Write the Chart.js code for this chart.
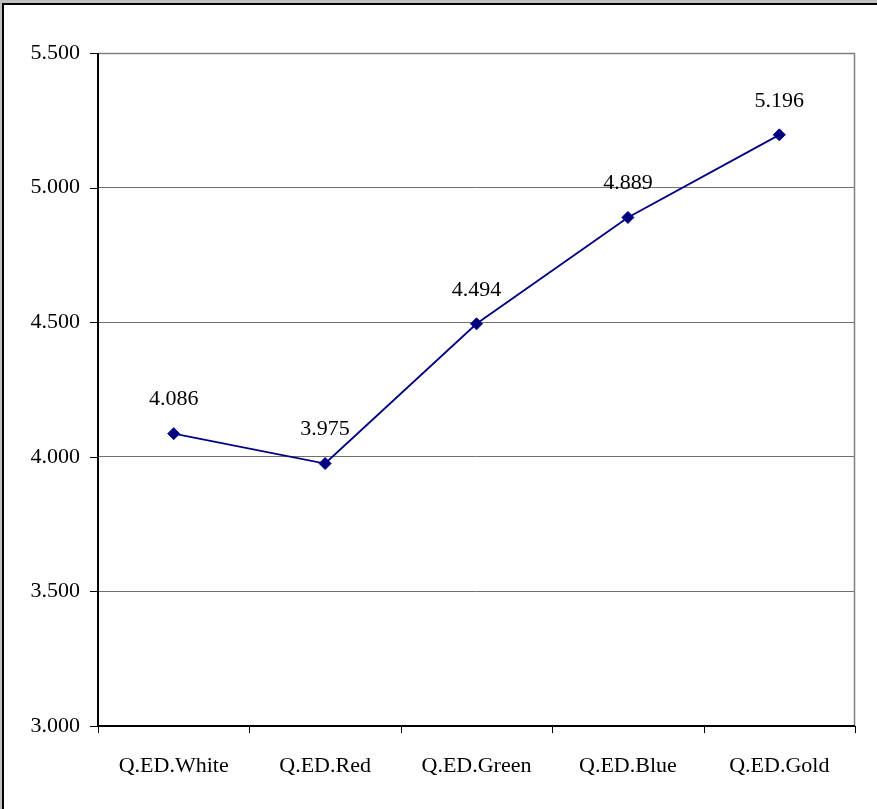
<!DOCTYPE html>
<html>
<head>
<meta charset="utf-8">
<script src="https://cdn.jsdelivr.net/npm/chart.js@4/dist/chart.umd.min.js"></script>
<style>
  html, body { margin: 0; padding: 0; }
  body { width: 877px; height: 809px; background: #c0c0c0; position: relative; overflow: hidden; }
  #frame { position: absolute; left: 2px; top: 3px; right: -10px; bottom: -10px; background: #fff; border-left: 2px solid #000; border-top: 2px solid #000; }
  #wrap { position: absolute; left: 0; top: 0; width: 877px; height: 809px; }
</style>
</head>
<body>
<div id="frame"></div>
<div id="wrap"><canvas id="c" width="877" height="809"></canvas></div>
<script>
const categories = ['Q.ED.White', 'Q.ED.Red', 'Q.ED.Green', 'Q.ED.Blue', 'Q.ED.Gold'];
const scores = [4.086, 3.975, 4.494, 4.889, 5.196];
const yTicks = [3.0, 3.5, 4.0, 4.5, 5.0, 5.5];

const FONT = '"Liberation Serif", "Times New Roman", serif';
const fmt = v => v.toFixed(3);

// Value labels above each marker
const valueLabels = {
  id: 'valueLabels',
  afterDatasetsDraw(chart) {
    const ctx = chart.ctx;
    const meta = chart.getDatasetMeta(0);
    ctx.save();
    ctx.font = '22px ' + FONT;
    ctx.fillStyle = '#000';
    ctx.textAlign = 'center';
    ctx.textBaseline = 'middle';
    meta.data.forEach((pt, i) => {
      ctx.fillText(fmt(scores[i]), pt.x, pt.y - 34);
    });
    ctx.restore();
  }
};

// Axis lines, tick marks and plot frame
const frameLines = {
  id: 'frameLines',
  beforeDatasetsDraw(chart) {
    const { ctx, chartArea: a, scales } = chart;
    ctx.save();
    // right and top border of plot area
    ctx.strokeStyle = '#808080';
    ctx.lineWidth = 1.5;
    ctx.beginPath();
    ctx.moveTo(a.left, a.top + 0.5);
    ctx.lineTo(a.right - 0.5, a.top + 0.5);
    ctx.lineTo(a.right - 0.5, a.bottom);
    ctx.stroke();
    // y tick marks
    ctx.strokeStyle = '#000';
    ctx.lineWidth = 1;
    yTicks.forEach(v => {
      const y = Math.round(scales.y.getPixelForValue(v)) + 0.5;
      ctx.beginPath();
      ctx.moveTo(a.left - 8, y);
      ctx.lineTo(a.left, y);
      ctx.stroke();
    });
    // x tick marks at category boundaries
    const n = categories.length;
    for (let i = 0; i <= n; i++) {
      const x = Math.round(scales.x.getPixelForValue(i - 0.5)) + 0.5;
      ctx.beginPath();
      ctx.moveTo(x, a.bottom);
      ctx.lineTo(x, a.bottom + 7);
      ctx.stroke();
    }
    // axis lines
    ctx.lineWidth = 2;
    ctx.beginPath();
    ctx.moveTo(a.left, a.top);
    ctx.lineTo(a.left, a.bottom);
    ctx.lineTo(a.right, a.bottom);
    ctx.stroke();
    ctx.restore();
  }
};

new Chart(document.getElementById('c'), {
  type: 'line',
  data: {
    labels: categories,
    datasets: [{
      data: scores,
      borderColor: '#000080',
      borderWidth: 1.8,
      backgroundColor: '#000080',
      pointStyle: 'rectRot',
      pointRadius: 6,
      pointBorderWidth: 1,
      pointBorderColor: '#000080',
      pointBackgroundColor: '#000080',
      tension: 0,
      fill: false
    }]
  },
  options: {
    responsive: false,
    animation: false,
    devicePixelRatio: 1,
    layout: { padding: { left: 4, top: 53, right: 22, bottom: 0 } },
    plugins: { legend: { display: false }, tooltip: { enabled: false } },
    scales: {
      x: {
        type: 'category',
        offset: true,
        grid: { display: false, drawTicks: false },
        border: { display: false },
        ticks: {
          color: '#000',
          font: { family: FONT, size: 22 },
          padding: 27,
          maxRotation: 0,
          autoSkip: false
        },
        afterFit(s) { s.height = 83; }
      },
      y: {
        min: 3.0,
        max: 5.5,
        afterBuildTicks(s) { s.ticks = yTicks.map(v => ({ value: v })); },
        grid: {
          color: ctx => (ctx.tick && (ctx.tick.value === 3.0 || ctx.tick.value === 5.5)) ? 'rgba(0,0,0,0)' : '#707070',
          lineWidth: 1,
          drawTicks: false
        },
        border: { display: false },
        ticks: {
          color: '#000',
          font: { family: FONT, size: 22 },
          padding: 18,
          callback: v => fmt(v)
        },
        afterFit(s) { s.width = 94; }
      }
    }
  },
  plugins: [frameLines, valueLabels]
});
</script>
</body>
</html>
